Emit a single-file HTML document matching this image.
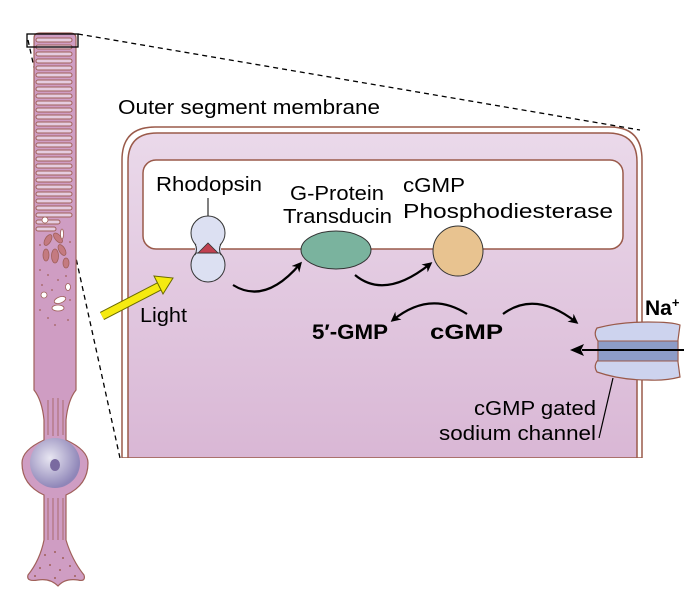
<!DOCTYPE html>
<html><head><style>
body{margin:0;background:#fff;}
svg{display:block;}
text{font-family:"Liberation Sans",sans-serif;}
</style></head><body>
<svg width="698" height="600" viewBox="0 0 698 600" xmlns="http://www.w3.org/2000/svg">
<defs>
<linearGradient id="bg" x1="0" y1="0" x2="0" y2="1">
<stop offset="0" stop-color="#ead9ea"/><stop offset="1" stop-color="#d9b7d5"/>
</linearGradient>
<radialGradient id="nuc" cx="0.4" cy="0.4" r="0.6">
<stop offset="0" stop-color="#e8e6f2"/><stop offset="1" stop-color="#8f86b8"/>
</radialGradient>
<marker id="ah" markerWidth="10" markerHeight="10" refX="7" refY="5" orient="auto" markerUnits="userSpaceOnUse">
<path d="M0,0 L10,5 L0,10 L3,5 Z" fill="#000"/>
</marker>
</defs>

<path d="M122,458 L122,160 Q122,127 155,127 L610,127 Q642,127 642,160 L642,458 Z" fill="#fff" stroke="#9a5a4a" stroke-width="1.5"/>
<path d="M128,458 L128,162 Q128,133 157,133 L608,133 Q637,133 637,162 L637,458 Z" fill="url(#bg)" stroke="#9a5a4a" stroke-width="1.5"/>
<rect x="0" y="458" width="698" height="142" fill="#fff"/>
<rect x="143" y="160" width="480" height="89" rx="13" fill="#fff" stroke="#9a5a4a" stroke-width="1.5"/>

<text x="118" y="114" font-size="20" textLength="262" lengthAdjust="spacingAndGlyphs">Outer segment membrane</text>

<line x1="28" y1="40" x2="120" y2="458" stroke="#000" stroke-width="1.3" stroke-dasharray="5,4"/>
<line x1="78" y1="34" x2="640" y2="130" stroke="#000" stroke-width="1.3" stroke-dasharray="5,4"/>

<g stroke="#a0605a" stroke-width="1.2" fill="#cf9dc3">
<path d="M34,38 Q34,33 40,33 L70,33 Q76,33 76,38 L76,390 Q68,400 66,420 L66,440 Q88,450 88,463 Q88,485 66,495 L66,540 Q72,560 84,575 Q86,582 78,580 Q65,578 58,586 Q50,578 38,580 Q26,582 28,575 Q40,560 44,540 L44,495 Q22,485 22,463 Q22,450 44,440 L44,420 Q42,400 34,390 Z"/>
</g>
<g stroke="#a0605a" stroke-width="1" fill="#e5cce0">
<rect x="36" y="38" width="36" height="4" rx="2"/><rect x="36" y="45" width="36" height="4" rx="2"/><rect x="36" y="52" width="36" height="4" rx="2"/><rect x="36" y="59" width="36" height="4" rx="2"/><rect x="36" y="66" width="36" height="4" rx="2"/><rect x="36" y="73" width="36" height="4" rx="2"/><rect x="36" y="80" width="36" height="4" rx="2"/><rect x="36" y="87" width="36" height="4" rx="2"/><rect x="36" y="94" width="36" height="4" rx="2"/><rect x="36" y="101" width="36" height="4" rx="2"/><rect x="36" y="108" width="36" height="4" rx="2"/><rect x="36" y="115" width="36" height="4" rx="2"/><rect x="36" y="122" width="36" height="4" rx="2"/><rect x="36" y="129" width="36" height="4" rx="2"/><rect x="36" y="136" width="36" height="4" rx="2"/><rect x="36" y="143" width="36" height="4" rx="2"/><rect x="36" y="150" width="36" height="4" rx="2"/><rect x="36" y="157" width="36" height="4" rx="2"/><rect x="36" y="164" width="36" height="4" rx="2"/><rect x="36" y="171" width="36" height="4" rx="2"/><rect x="36" y="178" width="36" height="4" rx="2"/><rect x="36" y="185" width="36" height="4" rx="2"/><rect x="36" y="192" width="36" height="4" rx="2"/><rect x="36" y="199" width="36" height="4" rx="2"/><rect x="36" y="206" width="36" height="4" rx="2"/><rect x="36" y="213" width="36" height="4" rx="2"/><rect x="36" y="220" width="24" height="4" rx="2"/><rect x="36" y="227" width="20" height="4" rx="2"/>
</g>
<g fill="#c47a80" stroke="#a0605a" stroke-width="0.8">
<ellipse cx="48" cy="240" rx="3" ry="6" transform="rotate(30 48 240)"/>
<ellipse cx="58" cy="238" rx="3" ry="6" transform="rotate(-40 58 238)"/>
<ellipse cx="46" cy="255" rx="3" ry="6"/>
<ellipse cx="55" cy="256" rx="3.5" ry="7"/>
<ellipse cx="62" cy="250" rx="3" ry="6" transform="rotate(-30 62 250)"/>
<ellipse cx="66" cy="263" rx="3" ry="5"/>
</g>
<g fill="#fff" stroke="#a0605a" stroke-width="0.8">
<ellipse cx="45" cy="220" rx="3" ry="3"/>
<ellipse cx="68" cy="287" rx="2.5" ry="3.5"/>
<ellipse cx="44" cy="295" rx="3" ry="3"/>
<ellipse cx="60" cy="300" rx="6" ry="3" transform="rotate(-20 60 300)"/>
<ellipse cx="58" cy="308" rx="6" ry="3"/>
<ellipse cx="62" cy="234" rx="1.5" ry="5"/>
</g>
<g stroke="#a0605a" stroke-width="0.8" fill="none">
<path d="M48,400 L48,435 M53,398 L53,436 M58,398 L58,436 M63,400 L63,435"/>
<path d="M48,498 L48,540 M53,498 L53,540 M58,498 L58,540 M63,498 L63,540"/>
</g>
<g fill="#a0605a">
<circle cx="40" cy="270" r="0.9"/><circle cx="48" cy="275" r="0.9"/><circle cx="58" cy="280" r="0.9"/><circle cx="66" cy="276" r="0.9"/><circle cx="42" cy="285" r="0.9"/><circle cx="52" cy="290" r="0.9"/><circle cx="70" cy="300" r="0.9"/><circle cx="40" cy="310" r="0.9"/><circle cx="48" cy="318" r="0.9"/><circle cx="68" cy="320" r="0.9"/><circle cx="55" cy="325" r="0.9"/><circle cx="40" cy="245" r="0.9"/><circle cx="70" cy="242" r="0.9"/>
<circle cx="45" cy="555" r="1"/><circle cx="55" cy="552" r="1"/><circle cx="63" cy="558" r="1"/><circle cx="40" cy="568" r="1"/><circle cx="50" cy="565" r="1"/><circle cx="60" cy="570" r="1"/><circle cx="70" cy="566" r="1"/><circle cx="35" cy="576" r="1"/><circle cx="75" cy="576" r="1"/><circle cx="55" cy="578" r="1"/>
</g>
<circle cx="55" cy="463" r="25" fill="url(#nuc)"/>
<ellipse cx="55" cy="465" rx="5" ry="6" fill="#7a6aa0"/>
<rect x="27" y="34" width="51" height="13" fill="none" stroke="#000" stroke-width="1.3"/>

<line x1="102" y1="316" x2="160" y2="286" stroke="#6a6a00" stroke-width="9"/>
<line x1="102" y1="316" x2="160" y2="286" stroke="#f5ea10" stroke-width="7"/>
<path d="M154,276 L173,278 L163,294 Z" fill="#f5ea10" stroke="#6a6a00" stroke-width="1"/>
<text x="140" y="322" font-size="20" textLength="47" lengthAdjust="spacingAndGlyphs">Light</text>

<line x1="208" y1="198" x2="208" y2="216" stroke="#000" stroke-width="1"/>
<circle cx="208" cy="233" r="17" fill="#dce0f2" stroke="#333" stroke-width="1"/>
<circle cx="208" cy="265" r="17" fill="#dce0f2" stroke="#333" stroke-width="1"/>
<ellipse cx="208" cy="249" rx="13" ry="10" fill="#dce0f2"/>
<path d="M195,244 Q198,249 195,255 M221,244 Q218,249 221,255" fill="none" stroke="#333" stroke-width="1"/>
<line x1="196" y1="253" x2="220" y2="253" stroke="#333" stroke-width="1"/>
<path d="M198,253 L208,243 L218,253 Z" fill="#c04050" stroke="#333" stroke-width="0.8"/>
<text x="156" y="191" font-size="20" textLength="106" lengthAdjust="spacingAndGlyphs">Rhodopsin</text>

<ellipse cx="336" cy="250" rx="35" ry="19" fill="#7ab39e" stroke="#333" stroke-width="1"/>
<text x="290" y="200" font-size="20" textLength="94" lengthAdjust="spacingAndGlyphs">G-Protein</text>
<text x="283" y="223" font-size="20" textLength="109" lengthAdjust="spacingAndGlyphs">Transducin</text>

<circle cx="458" cy="251" r="25" fill="#e8c390" stroke="#333" stroke-width="1"/>
<text x="403" y="192" font-size="20" textLength="62" lengthAdjust="spacingAndGlyphs">cGMP</text>
<text x="403" y="218" font-size="20" textLength="210" lengthAdjust="spacingAndGlyphs">Phosphodiesterase</text>

<path d="M233,285 Q265,305 300,264" fill="none" stroke="#000" stroke-width="2.2" marker-end="url(#ah)"/>
<path d="M355,275 Q385,300 430,264" fill="none" stroke="#000" stroke-width="2.2" marker-end="url(#ah)"/>
<path d="M467,314 Q430,290 393,320" fill="none" stroke="#000" stroke-width="2.2" marker-end="url(#ah)"/>
<path d="M503,314 Q535,290 576,322" fill="none" stroke="#000" stroke-width="2.2" marker-end="url(#ah)"/>

<text x="312" y="339" font-size="21" font-weight="bold" textLength="76" lengthAdjust="spacingAndGlyphs">5′-GMP</text>
<text x="430" y="339" font-size="21" font-weight="bold" textLength="73" lengthAdjust="spacingAndGlyphs">cGMP</text>

<path d="M597,328 Q620,322 648,322 Q672,322 680,325 L678,340 L678,362 L680,377 Q665,381 648,380 Q620,380 597,372 Q593,366 598,360 L598,341 Q593,334 597,328 Z" fill="#cdd3ee" stroke="#9a5a4a" stroke-width="1.2"/>
<rect x="598" y="341" width="80" height="20" fill="#8d9cc8" stroke="#9a5a4a" stroke-width="1"/>
<line x1="684" y1="350" x2="582" y2="350" stroke="#000" stroke-width="2"/>
<path d="M570,350 L584,344 L581,350 L584,356 Z" fill="#000"/>
<text x="645" y="315" font-size="21" font-weight="bold">Na<tspan font-size="13" dy="-8">+</tspan></text>

<line x1="613" y1="378" x2="599" y2="438" stroke="#000" stroke-width="1.2"/>
<text x="474" y="415" font-size="20" textLength="122" lengthAdjust="spacingAndGlyphs">cGMP gated</text>
<text x="439" y="440" font-size="20" textLength="157" lengthAdjust="spacingAndGlyphs">sodium channel</text>
</svg>
</body></html>
